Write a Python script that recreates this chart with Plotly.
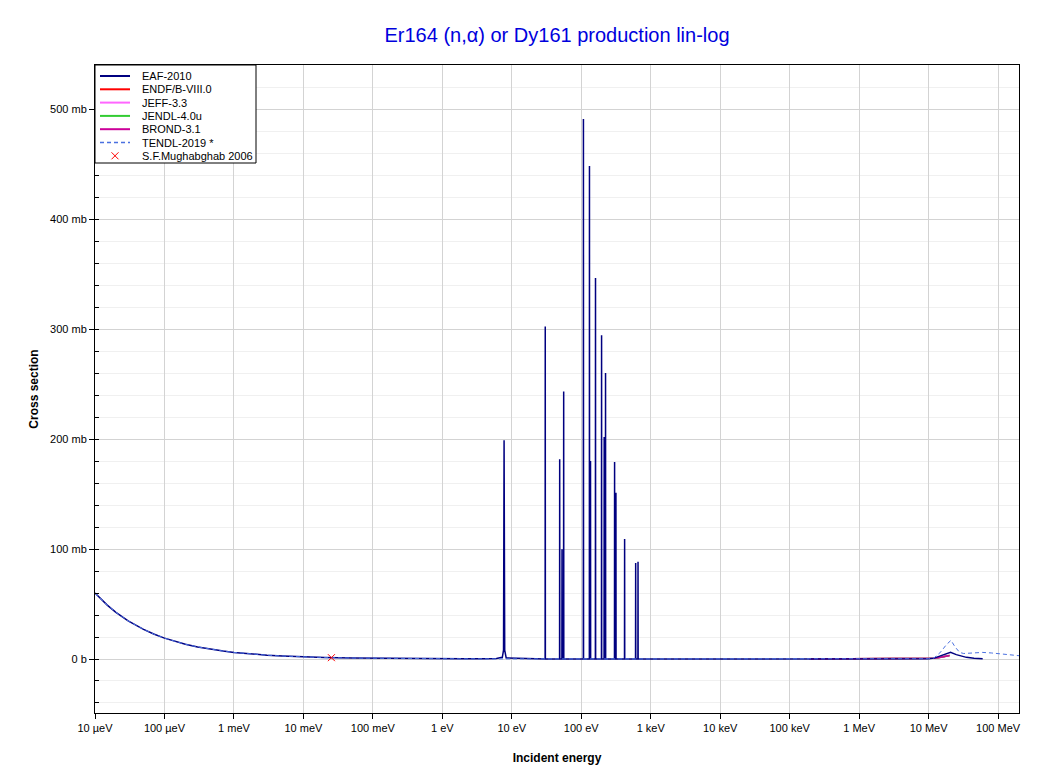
import plotly.graph_objects as go
import numpy as np

# ---------------- data (energies in eV, cross sections in mb) ----------------
# EAF-2010: smooth 1/v part, resonances, fast region
eaf_low_E = [1e-5, 1.5e-5, 2e-5, 3e-5, 5e-5, 7e-5, 1e-4, 1.5e-4, 2e-4, 3e-4, 5e-4,
             7e-4, 1e-3, 1.5e-3, 2e-3, 3e-3, 5e-3, 7e-3, 1e-2, 2e-2, 5e-2,
             0.1, 0.2, 0.5, 1.0, 2.0, 4.0, 6.0, 7.3, 7.6]
eaf_low_S = [60.0, 49.0, 42.5, 34.6, 27.0, 22.7, 19.0, 15.5, 13.4, 11.0, 8.5,
             7.2, 6.0, 4.9, 4.2, 3.5, 2.7, 2.3, 1.9, 1.34, 0.85,
             0.6, 0.42, 0.27, 0.19, 0.14, 0.2, 0.5, 1.5, 8.0]

res_E = [7.74, 30.3, 48.9, 52.8, 55.8, 107.4, 131.2, 135.8, 160.3, 196.0,
         213.8, 223.5, 301.7, 315.4, 420.7, 606.6, 656.0]
res_S = [199.0, 302.5, 181.8, 99.8, 243.4, 491.4, 448.7, 180.2, 346.6, 294.5,
         202.0, 260.2, 179.2, 151.3, 109.2, 87.4, 88.4]
res_base = 0.1

eaf_fast_E = [7.9, 8.3, 1e3, 1e4, 1e5, 1e6, 5e6, 1e7, 1.2e7, 1.5e7, 1.8e7,
              2.07e7, 2.5e7, 3.0e7, 3.5e7, 4.5e7, 6.0e7]
eaf_fast_S = [8.0, 1.0, 0.05, 0.02, 0.01, 0.01, 0.05, 0.2, 0.8, 3.0, 5.3,
              6.0, 4.0, 2.3, 1.5, 0.7, 0.3]

# ENDF/B-VIII.0, JEFF-3.3, JENDL-4.0u, BROND-3.1 (fast region only)
endf_E = [1.9e5, 1e6, 5e6, 1e7, 1.2e7, 1.5e7, 1.8e7, 2.0e7]
endf_S = [0.0, 0.001, 0.02, 0.2, 0.6, 1.5, 2.6, 3.2]

# TENDL-2019
tendl_E = [1e-5, 1.5e-5, 2e-5, 3e-5, 5e-5, 7e-5, 1e-4, 1.5e-4, 2e-4, 3e-4, 5e-4,
           7e-4, 1e-3, 1.5e-3, 2e-3, 3e-3, 5e-3, 7e-3, 1e-2, 2e-2, 5e-2,
           0.1, 0.2, 0.5, 1.0, 2.0, 1e3, 1e4, 1e5, 1e6, 5e6, 1e7, 1.2e7,
           1.5e7, 1.8e7, 2.1e7, 2.4e7, 2.8e7, 3.2e7, 4.0e7, 6.0e7, 8.0e7,
           1.05e8, 1.4e8, 2.0e8]
tendl_S = [60.0, 49.0, 42.5, 34.6, 27.0, 22.7, 19.0, 15.5, 13.4, 11.0, 8.5,
           7.2, 6.0, 4.9, 4.2, 3.5, 2.7, 2.3, 1.9, 1.34, 0.85,
           0.6, 0.42, 0.27, 0.19, 0.14, 0.05, 0.02, 0.01, 0.01, 0.05,
           0.3, 1.0, 6.5, 13.0, 17.0, 11.0, 6.0, 5.0, 5.3, 6.0, 5.5, 4.7,
           3.8, 3.0]

# S.F.Mughabghab 2006 thermal point
mug_E = [0.0253]
mug_S = [1.2]

x_tickvals = [1e-5, 1e-4, 1e-3, 1e-2, 1e-1, 1, 10, 100, 1e3, 1e4, 1e5, 1e6, 1e7, 1e8]
x_ticktext = ["10 µeV", "100 µeV", "1 meV", "10 meV", "100 meV", "1 eV", "10 eV",
              "100 eV", "1 keV", "10 keV", "100 keV", "1 MeV", "10 MeV", "100 MeV"]
y_tickvals = [0, 100, 200, 300, 400, 500]
y_ticktext = ["0 b", "100 mb", "200 mb", "300 mb", "400 mb", "500 mb"]

legend_names = ["EAF-2010", "ENDF/B-VIII.0", "JEFF-3.3", "JENDL-4.0u",
                "BROND-3.1", "TENDL-2019 *", "S.F.Mughabghab 2006"]
legend_colors = ["#000080", "#ff0000", "#ff66ff", "#33cc33", "#cc0099",
                 "#4a70e0", "#ff0000"]

# ---------------- build EAF curve ----------------
eaf_E = list(eaf_low_E)
eaf_S = list(eaf_low_S)
eaf_E.append(res_E[0]); eaf_S.append(res_S[0])
for e, s in zip(res_E[1:], res_S[1:]):
    eaf_E += [e * 0.996, e, e * 1.004]
    eaf_S += [res_base, s, res_base]
pairs = sorted(zip(eaf_E + eaf_fast_E, eaf_S + eaf_fast_S))
eaf_E = [p[0] for p in pairs]
eaf_S = [p[1] for p in pairs]

FONT = "Liberation Sans, Arial, sans-serif"
DASH = "4px,3px"

fig = go.Figure()
fig.add_trace(go.Scatter(x=endf_E, y=endf_S, mode="lines", name=legend_names[1],
                         line=dict(color=legend_colors[1], width=1.5)))
fig.add_trace(go.Scatter(x=endf_E, y=endf_S, mode="lines", name=legend_names[2],
                         line=dict(color=legend_colors[2], width=1.5)))
fig.add_trace(go.Scatter(x=endf_E, y=endf_S, mode="lines", name=legend_names[3],
                         line=dict(color=legend_colors[3], width=1.5)))
fig.add_trace(go.Scatter(x=endf_E, y=endf_S, mode="lines", name=legend_names[4],
                         line=dict(color=legend_colors[4], width=1.5)))
fig.add_trace(go.Scatter(x=eaf_E, y=eaf_S, mode="lines", name=legend_names[0],
                         line=dict(color=legend_colors[0], width=1.5)))
fig.add_trace(go.Scatter(x=tendl_E, y=tendl_S, mode="lines", name=legend_names[5],
                         line=dict(color=legend_colors[5], width=1, dash=DASH)))
fig.add_trace(go.Scatter(x=mug_E, y=mug_S, mode="markers", name=legend_names[6],
                         marker=dict(symbol="x-thin", size=7, color="#ff0000",
                                     line=dict(color="#ff0000", width=1))))

# ---------------- compact legend box (drawn in paper coordinates) ----------------
PLOT_W, PLOT_H = 924.0, 648.0
def px(xp):  # pixel offset from plot left -> paper
    return xp / PLOT_W
def py(yp):  # pixel offset from plot top -> paper
    return 1 - yp / PLOT_H

shapes = [dict(type="rect", xref="paper", yref="paper",
               x0=0, x1=px(161), y0=py(98), y1=1,
               line=dict(color="black", width=1), fillcolor="white", layer="above")]
annotations = []
row0, drow = 11.0, 13.3
for i, (nm, col) in enumerate(zip(legend_names, legend_colors)):
    yc = py(row0 + i * drow)
    if i < 6:
        shapes.append(dict(type="line", xref="paper", yref="paper",
                           x0=px(5), x1=px(35), y0=yc, y1=yc, layer="above",
                           line=dict(color=col, width=2 if i < 5 else 1.5,
                                     dash=DASH if i == 5 else "solid")))
    else:
        for s in (1, -1):
            shapes.append(dict(type="line", xref="paper", yref="paper",
                               x0=px(16.5), x1=px(23.5), y0=py(row0 + i * drow - 3.5 * s),
                               y1=py(row0 + i * drow + 3.5 * s), layer="above",
                               line=dict(color=col, width=1)))
    annotations.append(dict(text=nm, xref="paper", yref="paper", x=px(45), y=yc,
                            xanchor="left", yanchor="middle", showarrow=False,
                            font=dict(family=FONT, size=11, color="black")))

ymax = max(res_S)
fig.update_layout(
    width=1055, height=766,
    paper_bgcolor="white", plot_bgcolor="white",
    margin=dict(l=87, r=44, t=57, b=61, autoexpand=False),
    font=dict(family=FONT, size=11, color="black"),
    title=dict(text="Er164 (n,α) or Dy161 production lin-log",
               xref="paper", x=0.5, xanchor="center", y=1 - 27 / 766, yanchor="middle",
               font=dict(family=FONT, size=20, color="#0000dd")),
    showlegend=False,
    shapes=shapes, annotations=annotations,
    xaxis=dict(type="log", range=[-5, np.log10(2e8)],
               tickmode="array", tickvals=x_tickvals, ticktext=x_ticktext,
               ticks="outside", ticklen=5, tickcolor="black",
               showgrid=True, gridcolor="#d3d3d3", gridwidth=1,
               showline=True, linecolor="black", linewidth=1, mirror=True,
               zeroline=False, tickfont=dict(size=11),
               title=dict(text="<b>Incident energy</b>", font=dict(size=12), standoff=20)),
    yaxis=dict(range=[-0.1 * ymax, 1.1 * ymax],
               tickmode="array", tickvals=y_tickvals, ticktext=y_ticktext,
               ticks="outside", ticklen=5, tickcolor="black",
               showgrid=True, gridcolor="#d3d3d3", gridwidth=1,
               minor=dict(tickmode="linear", tick0=0, dtick=20, showgrid=True,
                          gridcolor="#f0f0f0", ticks="inside", ticklen=4,
                          tickcolor="black"),
               showline=True, linecolor="black", linewidth=1, mirror=True,
               zeroline=False, tickfont=dict(size=11),
               title=dict(text="<b>Cross section</b>", font=dict(size=12), standoff=8)),
)

fig.write_html("out.html")
